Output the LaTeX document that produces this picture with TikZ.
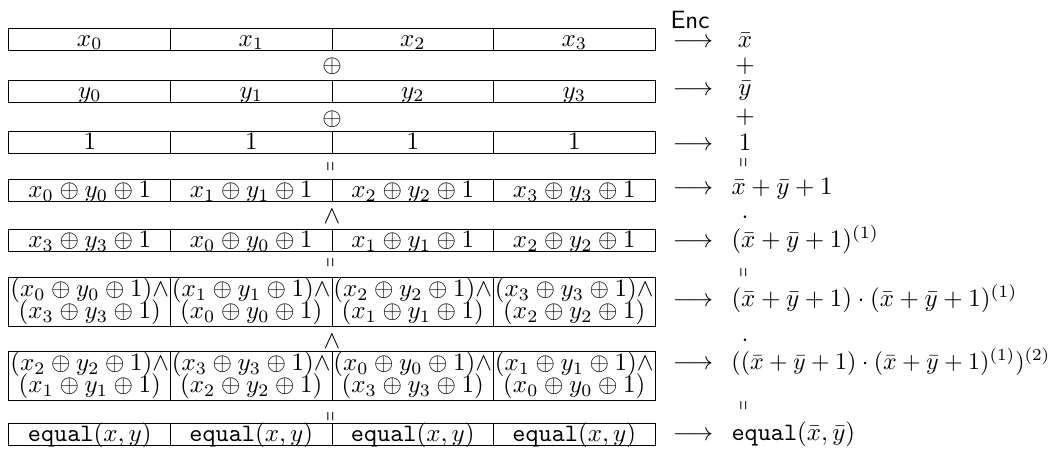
\documentclass[tikz,border=0pt]{standalone}
\usepackage{amsmath,amssymb,graphicx}
\begin{document}
\begin{tikzpicture}[x=0.4pt,y=-0.4pt,
  cell/.style={draw,line width=0.4pt,rectangle,inner sep=0pt,
    minimum width=64.6pt,minimum height=8.8pt,text height=6.5pt,text depth=0.9pt},
  cellii/.style={draw,line width=0.4pt,rectangle,inner sep=0pt,
    minimum width=64.6pt,minimum height=19.6pt,align=center},
  op/.style={inner sep=0pt,anchor=base},
  eqv/.style={inner sep=0pt,anchor=center},
  arr/.style={inner sep=0pt,anchor=base},
  expr/.style={inner sep=0pt,anchor=base west},
]
\useasboundingbox (0,0) rectangle (1053,448);
\newcommand{\vq}{\rotatebox{90}{\scalebox{0.5}[1]{$=$}}}
% row 1
\node[cell] (r1c1) at (89.75,39) {$x_0$};
\node[cell] (r1c2) at (251.25,39) {$x_1$};
\node[cell] (r1c3) at (412.75,39) {$x_2$};
\node[cell] (r1c4) at (574.25,39) {$x_3$};
\node[op] (o1) at (332,72.3) {$\oplus$};
% row 2
\node[cell] (r2c1) at (89.75,91) {$y_0$};
\node[cell] (r2c2) at (251.25,91) {$y_1$};
\node[cell] (r2c3) at (412.75,91) {$y_2$};
\node[cell] (r2c4) at (574.25,91) {$y_3$};
\node[op] (o2) at (332,125.3) {$\oplus$};
% row 3
\node[cell] (r3c1) at (89.75,142) {$1$};
\node[cell] (r3c2) at (251.25,142) {$1$};
\node[cell] (r3c3) at (412.75,142) {$1$};
\node[cell] (r3c4) at (574.25,142) {$1$};
\node[eqv] (o3) at (332,167) {\vq};
% row 4
\node[cell] (r4c1) at (89.75,190.5) {$x_0\oplus y_0\oplus 1$};
\node[cell] (r4c2) at (251.25,190.5) {$x_1\oplus y_1\oplus 1$};
\node[cell] (r4c3) at (412.75,190.5) {$x_2\oplus y_2\oplus 1$};
\node[cell] (r4c4) at (574.25,190.5) {$x_3\oplus y_3\oplus 1$};
\node[op] (o4) at (332,223.3) {$\wedge$};
% row 5
\node[cell] (r5c1) at (89.75,240.5) {$x_3\oplus y_3\oplus 1$};
\node[cell] (r5c2) at (251.25,240.5) {$x_0\oplus y_0\oplus 1$};
\node[cell] (r5c3) at (412.75,240.5) {$x_1\oplus y_1\oplus 1$};
\node[cell] (r5c4) at (574.25,240.5) {$x_2\oplus y_2\oplus 1$};
\node[eqv] (o5) at (332,263) {\vq};
% row 6
\node[cellii] (r6c1) at (89.75,301.5) {$(x_0\oplus y_0\oplus 1)\wedge$\\[-3.3pt]$(x_3\oplus y_3\oplus 1)$};
\node[cellii] (r6c2) at (251.25,301.5) {$(x_1\oplus y_1\oplus 1)\wedge$\\[-3.3pt]$(x_0\oplus y_0\oplus 1)$};
\node[cellii] (r6c3) at (412.75,301.5) {$(x_2\oplus y_2\oplus 1)\wedge$\\[-3.3pt]$(x_1\oplus y_1\oplus 1)$};
\node[cellii] (r6c4) at (574.25,301.5) {$(x_3\oplus y_3\oplus 1)\wedge$\\[-3.3pt]$(x_2\oplus y_2\oplus 1)$};
\node[op] (o6) at (332,348.3) {$\wedge$};
% row 7
\node[cellii] (r7c1) at (89.75,375.5) {$(x_2\oplus y_2\oplus 1)\wedge$\\[-3.3pt]$(x_1\oplus y_1\oplus 1)$};
\node[cellii] (r7c2) at (251.25,375.5) {$(x_3\oplus y_3\oplus 1)\wedge$\\[-3.3pt]$(x_2\oplus y_2\oplus 1)$};
\node[cellii] (r7c3) at (412.75,375.5) {$(x_0\oplus y_0\oplus 1)\wedge$\\[-3.3pt]$(x_3\oplus y_3\oplus 1)$};
\node[cellii] (r7c4) at (574.25,375.5) {$(x_1\oplus y_1\oplus 1)\wedge$\\[-3.3pt]$(x_0\oplus y_0\oplus 1)$};
\node[eqv] (o7) at (332,417) {\vq};
% row 8
\node[cell] (r8c1) at (89.75,434.5) {$\texttt{equal}(x,y)$};
\node[cell] (r8c2) at (251.25,434.5) {$\texttt{equal}(x,y)$};
\node[cell] (r8c3) at (412.75,434.5) {$\texttt{equal}(x,y)$};
\node[cell] (r8c4) at (574.25,434.5) {$\texttt{equal}(x,y)$};
% right column
\node[inner sep=0pt] (enc) at (690,20) {\textsf{Enc}};
\node[arr] (a1) at (693,47.3) {$\longrightarrow$};
\node[arr] (a2) at (693,95.3) {$\longrightarrow$};
\node[arr] (a3) at (693,150.3) {$\longrightarrow$};
\node[arr] (a4) at (693,194.3) {$\longrightarrow$};
\node[arr] (a5) at (693,247.3) {$\longrightarrow$};
\node[arr] (a6) at (693,306.3) {$\longrightarrow$};
\node[arr] (a7) at (693,369.3) {$\longrightarrow$};
\node[arr] (a8) at (693,440.3) {$\longrightarrow$};
\node[op] (e1) at (745,47.3) {$\bar{x}$};
\node[op] (p1) at (745,72.3) {$+$};
\node[op] (e2) at (745,95.3) {$\bar{y}$};
\node[op] (p2) at (745,123.3) {$+$};
\node[op] (e3) at (745,150.3) {$1$};
\node[eqv] (q1) at (745,163) {\vq};
\node[expr] (e4) at (731,194.3) {$\bar{x}+\bar{y}+1$};
\node[op] (d1) at (745,223.3) {$\cdot$};
\node[expr] (e5) at (731,247.3) {$(\bar{x}+\bar{y}+1)^{(1)}$};
\node[eqv] (q2) at (745,273) {\vq};
\node[expr] (e6) at (731,306.3) {$(\bar{x}+\bar{y}+1)\cdot(\bar{x}+\bar{y}+1)^{(1)}$};
\node[op] (d2) at (745,346.3) {$\cdot$};
\node[expr,scale=0.96,transform shape] (e7) at (731,369.3) {$((\bar{x}+\bar{y}+1)\cdot(\bar{x}+\bar{y}+1)^{(1)})^{(2)}$};
\node[eqv] (q3) at (745,406) {\vq};
\node[expr] (e8) at (731,440.3) {$\texttt{equal}(\bar{x},\bar{y})$};
\end{tikzpicture}
\end{document}
